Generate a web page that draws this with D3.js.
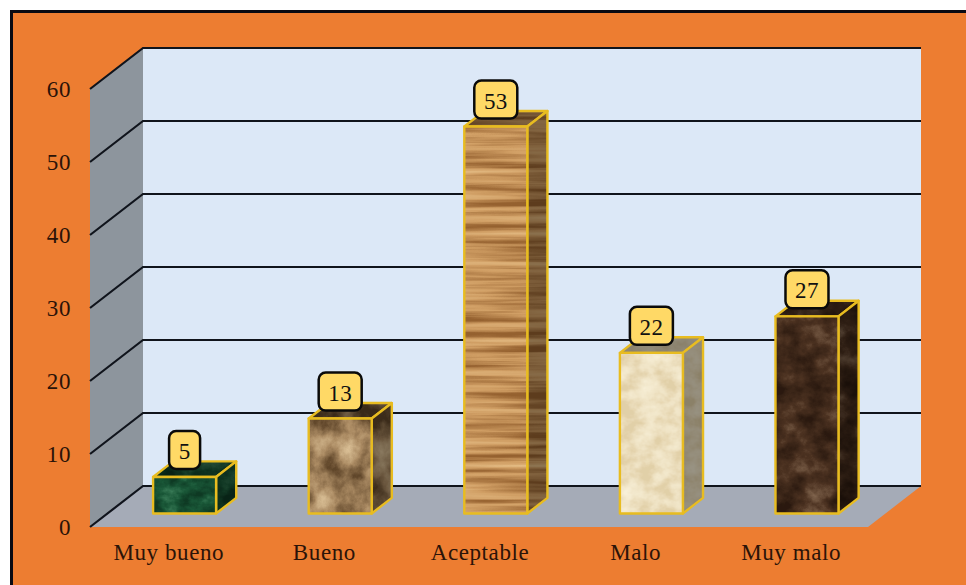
<!DOCTYPE html>
<html>
<head>
<meta charset="utf-8">
<script src="https://cdn.jsdelivr.net/npm/d3@7/dist/d3.min.js"></script>
<style>html,body{margin:0;padding:0;background:#fff;overflow:hidden}svg{display:block}</style>
</head>
<body>
<svg id="c" width="966" height="585"></svg>
<script>
const categories = ["Muy bueno", "Bueno", "Aceptable", "Malo", "Muy malo"];
const values = [5, 13, 53, 22, 27];
const yTicks = [0, 10, 20, 30, 40, 50, 60];

// material of every bar: dark, mid and light tones of its stone / wood / paper texture
const textureFreq = ["0.05 0.07", "0.035 0.03", "0.004 0.13", "0.05 0.06", "0.035 0.04"];
const textureOctaves = [5, 6, 4, 4, 6];
const textureTones = [
  [[14,58,36],[26,88,56],[62,128,92]],
  [[96,70,42],[172,140,100],[224,198,156]],
  [[150,98,48],[208,158,100],[228,188,132]],
  [[226,208,168],[240,228,198],[248,240,216]],
  [[42,25,15],[76,50,33],[138,110,86]]
];
const faceShade = {front: 1, side: 0.62, top: 0.6};

const W = 966, H = 585;
const svg = d3.select("#c");
const defs = svg.append("defs");

const depthX = 53, depthY = 41;
const barFrontDepth = 0.33, barBackDepth = 0.71;

const xFront = d3.scaleBand().domain(categories).range([90, 868]).paddingInner(0).paddingOuter(0);
const yFront = d3.scaleLinear().domain([0, 60]).range([527, 89]);
const barW = 63, barShift = -0.7;

const px = (x, d) => x + depthX * d;
const py = (v, d) => yFront(v) - depthY * d;
const pts = a => a.map(p => p.join(",")).join(" ");

// frame
svg.append("rect").attr("x", 11.5).attr("y", 11.5).attr("width", W + 20).attr("height", H + 20)
  .attr("fill", "#ED7D31").attr("stroke", "#0a0a12").attr("stroke-width", 3);

const x0 = xFront.range()[0], x1 = xFront.range()[1];

// walls and floor
svg.append("polygon").attr("fill", "#8D959D")
  .attr("points", pts([[px(x0,0),py(60,0)],[px(x0,1),py(60,1)],[px(x0,1),py(0,1)],[px(x0,0),py(0,0)]]));
svg.append("polygon").attr("fill", "#DCE8F7")
  .attr("points", pts([[px(x0,1),py(60,1)],[px(x1,1),py(60,1)],[px(x1,1),py(0,1)],[px(x0,1),py(0,1)]]));
svg.append("polygon").attr("fill", "#A5ABB7")
  .attr("points", pts([[px(x0,1),py(0,1)],[px(x1,1),py(0,1)],[px(x1,0),py(0,0)],[px(x0,0),py(0,0)]]));

// gridlines
svg.append("g").selectAll("polyline").data(yTicks).join("polyline")
  .attr("fill", "none").attr("stroke", "#10141c").attr("stroke-width", 2.2)
  .attr("points", v => pts([[px(x0,0),py(v,0)],[px(x0,1),py(v,1)],[px(x1,1),py(v,1)]]));

// texture filters
function makeFilter(id, i, shade) {
  const f = defs.append("filter").attr("id", id)
    .attr("x", 0).attr("y", 0).attr("width", 1).attr("height", 1)
    .attr("color-interpolation-filters", "sRGB");
  f.append("feTurbulence").attr("type", "fractalNoise")
    .attr("baseFrequency", textureFreq[i]).attr("numOctaves", textureOctaves[i])
    .attr("seed", i * 7 + 3).attr("result", "n");
  f.append("feColorMatrix").attr("type", "matrix")
    .attr("values", "1 0 0 0 0  1 0 0 0 0  1 0 0 0 0  0 0 0 0 1");
  const tr = f.append("feComponentTransfer");
  const tones = textureTones[i];
  ["feFuncR", "feFuncG", "feFuncB"].forEach((fn, k) => {
    const d = tones[0][k] / 255 * shade, m = tones[1][k] / 255 * shade, l = tones[2][k] / 255 * shade;
    tr.append(fn).attr("type", "table")
      .attr("tableValues", [d, d, d, (d + m) / 2, m, (m + l) / 2, l, l].map(t => t.toFixed(3)).join(" "));
  });
  f.append("feGaussianBlur").attr("stdDeviation", 0.6).attr("result", "c");
  f.append("feComposite").attr("in", "c").attr("in2", "SourceAlpha").attr("operator", "in");
}
categories.forEach((c, i) => {
  Object.keys(faceShade).forEach(face => makeFilter(`tex-${i}-${face}`, i, faceShade[face]));
});

// bars
const barData = categories.map((c, i) => ({c, i, v: values[i],
  l: xFront(c) + (xFront.bandwidth() - barW) / 2 + barShift, r: xFront(c) + (xFront.bandwidth() + barW) / 2 + barShift}));
const df = barFrontDepth, db = barBackDepth;
const faces = {
  top: b => [[px(b.l,df),py(b.v,df)],[px(b.r,df),py(b.v,df)],[px(b.r,db),py(b.v,db)],[px(b.l,db),py(b.v,db)]],
  side: b => [[px(b.r,df),py(b.v,df)],[px(b.r,db),py(b.v,db)],[px(b.r,db),py(0,db)],[px(b.r,df),py(0,df)]],
  front: b => [[px(b.l,df),py(b.v,df)],[px(b.r,df),py(b.v,df)],[px(b.r,df),py(0,df)],[px(b.l,df),py(0,df)]]
};
const bars = svg.append("g").selectAll("g").data(barData).join("g");
["top", "side", "front"].forEach(face => {
  bars.append("polygon").attr("points", b => pts(faces[face](b)))
    .attr("fill", "#000").attr("filter", b => `url(#tex-${b.i}-${face})`);
  bars.append("polygon").attr("points", b => pts(faces[face](b)))
    .attr("fill", "none").attr("stroke", "#E8BC20").attr("stroke-width", 2.4).attr("stroke-linejoin", "round");
});

// value labels
const lab = svg.append("g").selectAll("g").data(barData).join("g")
  .attr("transform", b => `translate(${px((b.l + b.r) / 2, df)},${py(b.v, df) - 8})`);
const labW = b => String(b.v).length > 1 ? 43 : 31;
lab.append("rect").attr("x", b => -labW(b) / 2).attr("y", -38).attr("width", labW).attr("height", 38)
  .attr("rx", 7).attr("fill", "#FFD966").attr("stroke", "#0a0a0a").attr("stroke-width", 2.5);
lab.append("text").attr("y", -18).attr("dy", "0.35em").attr("text-anchor", "middle")
  .attr("font-family", "'Liberation Serif'").attr("font-size", 23).attr("letter-spacing", 0.4).attr("fill", "#111")
  .text(b => b.v);

// axes
const yAxis = svg.append("g").attr("transform", "translate(90,0)")
  .call(d3.axisLeft(yFront).tickValues(yTicks).tickSize(0).tickPadding(19));
const xAxis = svg.append("g").attr("transform", "translate(1,527)")
  .call(d3.axisBottom(xFront).tickSize(0).tickPadding(17));
[yAxis, xAxis].forEach(a => {
  a.select(".domain").remove();
  a.selectAll("text").attr("font-family", "'Liberation Serif'").attr("font-size", 23).attr("letter-spacing", 0.6).attr("fill", "#2b1308");
});
</script>
</body>
</html>
